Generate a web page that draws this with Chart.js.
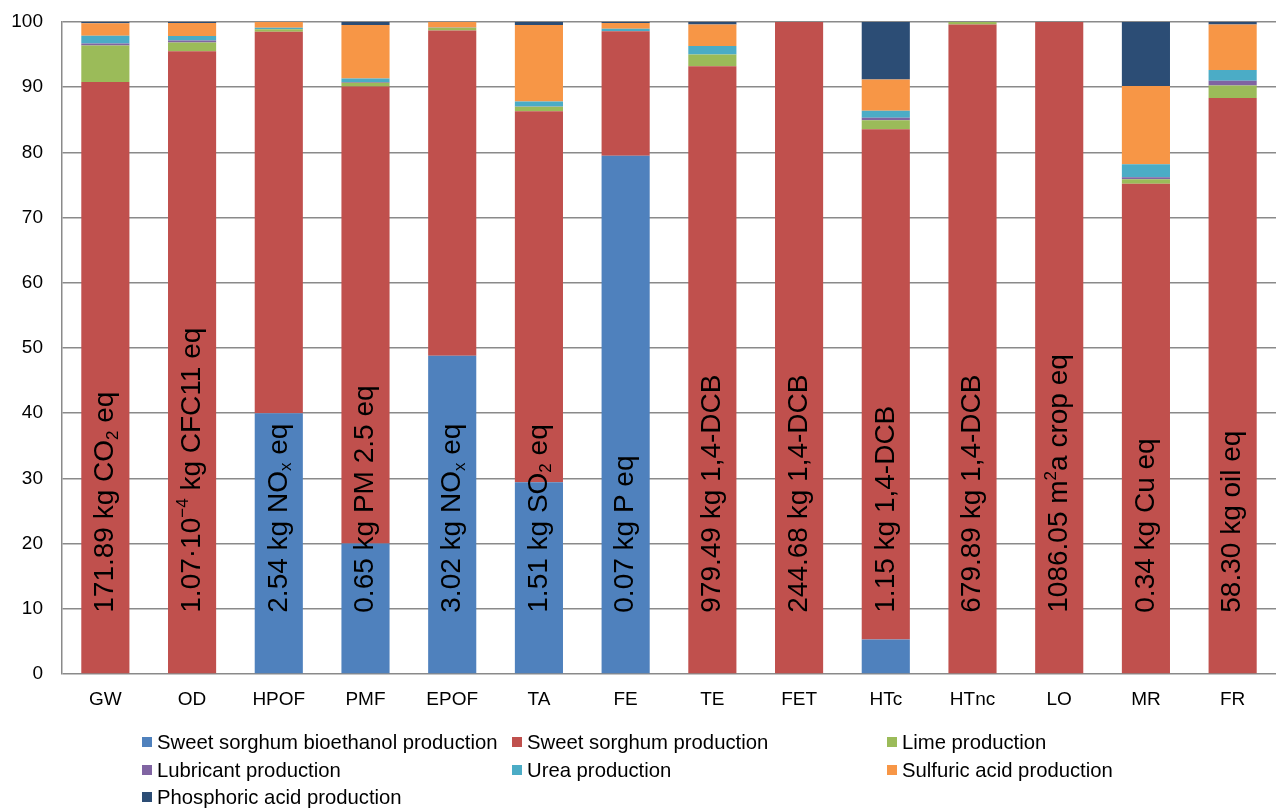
<!DOCTYPE html>
<html>
<head>
<meta charset="utf-8">
<script src="https://cdn.jsdelivr.net/npm/chart.js@4"></script>
<style>
  html, body { margin: 0; padding: 0; background: #fff; }
  #wrap { width: 1276px; height: 808px; }
</style>
</head>
<body>
<div id="wrap"><canvas id="impactChart"></canvas></div>
<script>
// impact categories
const categories = ['GW', 'OD', 'HPOF', 'PMF', 'EPOF', 'TA', 'FE', 'TE', 'FET', 'HTc', 'HTnc', 'LO', 'MR', 'FR'];

// contribution of each process, % of category total
const bioethanolProd = [0, 0, 40.0, 20.0, 48.8, 29.4, 79.5, 0, 0, 5.3, 0, 0, 0, 0];
const sorghumProd    = [90.8, 95.5, 58.5, 70.1, 49.9, 56.9, 19.1, 93.2, 100, 78.25, 99.6, 100, 75.2, 88.35];
const limeProd       = [5.6, 1.35, 0.4, 0.6, 0.4, 0.7, 0, 1.8, 0, 1.4, 0.4, 0, 0.7, 1.9];
const lubricantProd  = [0.3, 0.3, 0, 0.1, 0.05, 0.05, 0, 0, 0, 0.35, 0, 0, 0.3, 0.75];
const ureaProd       = [1.2, 0.7, 0.2, 0.55, 0, 0.75, 0.35, 1.3, 0, 1.1, 0, 0, 2.0, 1.65];
const sulfuricProd   = [1.9, 2.0, 0.9, 8.2, 0.85, 11.75, 0.9, 3.3, 0, 4.8, 0, 0, 12.0, 6.95];
const phosphoricProd = [0.2, 0.15, 0, 0.45, 0, 0.45, 0.15, 0.4, 0, 8.8, 0, 0, 9.8, 0.4];

// category totals written inside the bars: [text, 'n' | 'sub' | 'sup']
const totals = [
    [['171.89 kg CO', 'n'], ['2', 'sub'], [' eq', 'n']],
    [['1.07·10', 'n'], ['−4', 'sup'], [' kg CFC11 eq', 'n']],
    [['2.54 kg NO', 'n'], ['x', 'sub'], [' eq', 'n']],
    [['0.65 kg PM 2.5 eq', 'n']],
    [['3.02 kg NO', 'n'], ['x', 'sub'], [' eq', 'n']],
    [['1.51 kg SO', 'n'], ['2', 'sub'], [' eq', 'n']],
    [['0.07 kg P eq', 'n']],
    [['979.49 kg 1,4-DCB', 'n']],
    [['244.68 kg 1,4-DCB', 'n']],
    [['1.15 kg 1,4-DCB', 'n']],
    [['679.89 kg 1,4-DCB', 'n']],
    [['1086.05 m', 'n'], ['2', 'sup'], ['a crop eq', 'n']],
    [['0.34 kg Cu eq', 'n']],
    [['58.30 kg oil eq', 'n']]
];

const yTicks = [0, 10, 20, 30, 40, 50, 60, 70, 80, 90, 100];

const FONT = '"Liberation Sans", Arial, sans-serif';

// writes the totals vertically in each bar, starting just above 9 %
const totalsPlugin = {
    id: 'totals',
    afterDatasetsDraw(chart) {
        const ctx = chart.ctx;
        const x = chart.scales.x, y = chart.scales.y;
        const size = 28;
        ctx.save();
        ctx.fillStyle = '#000';
        ctx.textBaseline = 'middle';
        ctx.textAlign = 'left';
        totals.forEach((parts, i) => {
            ctx.save();
            ctx.translate(x.getPixelForValue(i), y.getPixelForValue(9.4));
            ctx.rotate(-Math.PI / 2);
            let pos = 0;
            parts.forEach(([txt, kind]) => {
                const s = kind === 'n' ? size : Math.round(size * 0.62);
                const dy = kind === 'sub' ? size * 0.28 : kind === 'sup' ? -size * 0.3 : 0;
                ctx.font = s + 'px ' + FONT;
                ctx.fillText(txt, pos, dy);
                pos += ctx.measureText(txt).width;
            });
            ctx.restore();
        });
        ctx.restore();
    }
};

// three-column legend under the axis
const gridLegend = {
    id: 'gridLegend',
    afterDraw(chart) {
        const ctx = chart.ctx;
        const colX = [142, 512, 887];
        const rowY = [742, 770, 797];
        ctx.save();
        ctx.font = '20.3px ' + FONT;
        ctx.textBaseline = 'middle';
        ctx.textAlign = 'left';
        chart.data.datasets.forEach((ds, i) => {
            const cx = colX[i % 3], cy = rowY[Math.floor(i / 3)];
            ctx.fillStyle = ds.backgroundColor;
            ctx.fillRect(cx, cy - 5, 10, 10);
            ctx.fillStyle = '#000';
            ctx.fillText(ds.label, cx + 15, cy + 1);
        });
        ctx.restore();
    }
};

const ctx = document.getElementById('impactChart').getContext('2d');
new Chart(ctx, {
    type: 'bar',
    data: {
        labels: categories,
        datasets: [
            { label: 'Sweet sorghum bioethanol production', data: bioethanolProd, backgroundColor: '#4F81BD' },
            { label: 'Sweet sorghum production', data: sorghumProd, backgroundColor: '#C0504D' },
            { label: 'Lime production', data: limeProd, backgroundColor: '#9BBB59' },
            { label: 'Lubricant production', data: lubricantProd, backgroundColor: '#8064A2' },
            { label: 'Urea production', data: ureaProd, backgroundColor: '#4BACC6' },
            { label: 'Sulfuric acid production', data: sulfuricProd, backgroundColor: '#F79646' },
            { label: 'Phosphoric acid production', data: phosphoricProd, backgroundColor: '#2C4D75' }
        ]
    },
    options: {
        responsive: true,
        maintainAspectRatio: false,
        animation: false,
        layout: { padding: { top: 22, right: 0, left: 0, bottom: 0 } },
        datasets: {
            bar: { barPercentage: 0.555, categoryPercentage: 1, borderWidth: 0 }
        },
        plugins: {
            legend: { display: false },
            tooltip: { enabled: false }
        },
        scales: {
            x: {
                stacked: true,
                grid: { display: false },
                border: { display: false },
                ticks: { color: '#000', font: { family: FONT, size: 19 }, padding: 6, maxRotation: 0 },
                afterFit(scale) { scale.height = 134; }
            },
            y: {
                stacked: true,
                min: 0,
                max: 100,
                afterBuildTicks(scale) { scale.ticks = yTicks.map(v => ({ value: v })); },
                // invisible tick marks keep the labels clear of the axis line
                grid: { color: '#8a8a8a', lineWidth: 1.5, drawTicks: true, tickLength: 19, tickColor: 'rgba(0,0,0,0)' },
                border: { display: true, color: '#8a8a8a', width: 1.5 },
                ticks: { color: '#000', font: { family: FONT, size: 19 }, padding: 0 },
                afterFit(scale) { scale.width = 62; }
            }
        }
    },
    plugins: [totalsPlugin, gridLegend]
});
</script>
</body>
</html>
